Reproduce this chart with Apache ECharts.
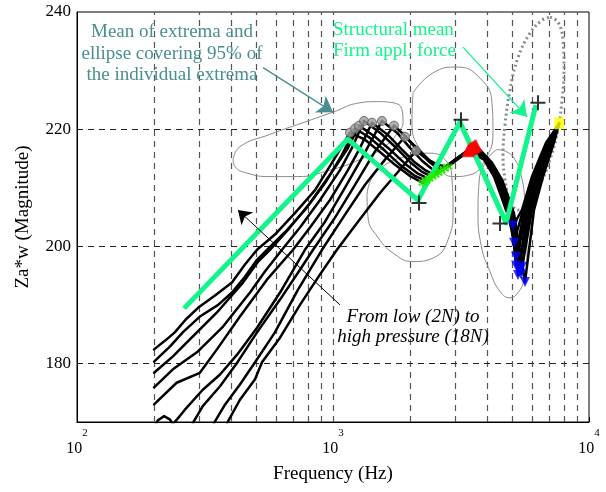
<!DOCTYPE html>
<html>
<head>
<meta charset="utf-8">
<script src="https://cdn.jsdelivr.net/npm/echarts/dist/echarts.min.js"></script>
<style>
html, body { margin: 0; padding: 0; background: #fff; }
#main { width: 606px; height: 492px; }
</style>
</head>
<body>
<div id="main"></div>
<script>
// measured curves, [frequency Hz, magnitude]
var curve1 = [[200,182.4],[221,183.9],[241,185.3],[266,187.5],[297,189.5],[346,191.6],[403,193.8],[453,196.9],[505,199.4],[593,202.0],[711,205.7],[851,209.6],[1018,215.1],[1165,219.4],
  [1334,218.2],[1526,216.1],[1747,213.9],[1999,212.0],[2247,210.8],[3368,216.3],
  [3889,214.8],[4254,211.9],[4491,209.1],[4740,206.2],[5047,203.5],[5473,206.2],[5989,211.9],[6793,217.7],[7635,220.9]];
var curve2 = [[200,180.3],[231,182.9],[260,185.4],[302,188.0],[356,190.0],[403,192.1],[453,194.8],[505,197.7],[552,199.4],[649,202.4],[777,206.2],[931,210.8],[1084,215.6],[1219,220.1],
  [1395,218.5],[1596,216.3],[1827,213.9],[2091,212.0],[2308,211.2],[3398,216.5],
  [3924,214.8],[4293,211.9],[4531,209.1],[4783,206.2],[4957,203.2],[5093,200.6],[5523,206.2],[6043,211.9],[6854,217.7],[7635,220.9]];
var curve3 = [[200,178.4],[237,181.2],[276,184.1],[352,188.7],[445,193.8],[510,197.4],[567,199.4],[679,203.2],[813,207.4],[973,212.2],[1134,216.5],[1264,220.6],
  [1459,218.7],[1670,216.5],[1911,214.1],[2148,212.4],[2371,211.5],[3429,216.7],
  [3959,214.8],[4332,211.9],[4572,209.1],[4826,206.2],[5002,202.8],[5185,198.2],[5573,206.2],[6098,211.9],[6916,217.7],[7635,220.9]];
var curve4 = [[200,175.9],[237,179.0],[294,181.9],[372,186.3],[474,192.1],[542,195.7],[632,199.4],[743,203.2],[890,207.9],[1065,213.0],[1186,216.8],[1322,221.4],
  [1526,219.4],[1747,217.0],[1999,214.4],[2227,212.7],[2436,211.9],[3460,216.7],
  [3995,214.6],[4371,211.7],[4614,209.0],[4869,205.9],[5047,202.0],[5185,196.7],[5674,206.2],[6208,211.9],[6978,217.7],[7635,220.9]];
var curve5 = [[200,173.0],[245,176.7],[302,178.4],[352,182.4],[433,188.0],[552,194.3],[698,199.4],[813,203.2],[973,207.9],[1144,213.0],[1275,216.8],[1420,221.1],
  [1640,219.0],[1860,216.5],[2091,214.3],[2308,212.9],[2503,212.2],[3491,216.8],
  [4031,214.6],[4410,211.7],[4655,209.0],[4913,205.9],[5139,201.5],[5327,196.0],[5725,206.2],[6264,211.9],[7041,217.7],[7635,220.9]];
var curve6 = [[200,169.1],[207,170.3],[219,171.0],[231,170.4],[237,169.6],[264,172.1],[310,175.5],[362,178.1],[422,181.5],[505,186.1],[621,192.1],[777,199.4],[931,204.2],[1114,210.0],[1298,215.1],[1553,221.4],
  [1779,219.4],[1999,216.8],[2227,214.6],[2436,213.2],[2572,212.5],[3523,217.0],
  [4067,214.4],[4450,211.5],[4697,208.8],[4957,205.7],[5093,201.1],[5280,195.1],[5829,206.2],[6378,211.9],[7105,217.7],[7635,220.9]];
var curve7 = [[276,168.7],[286,170.1],[310,172.7],[362,176.1],[425,180.3],[505,185.3],[621,190.9],[743,196.0],[836,199.4],[1018,204.9],[1219,210.5],[1459,216.2],[1731,220.6],
  [1928,218.7],[2148,216.3],[2393,214.3],[2642,212.9],[3554,217.0],
  [4104,214.4],[4491,211.5],[4740,208.8],[5002,205.7],[5232,201.1],[5473,196.5],[5882,206.2],[6436,211.9],[7169,217.7],[7635,220.9]];
var curve8 = [[337,169.1],[346,170.1],[379,173.0],[433,176.4],[496,180.2],[593,185.3],[730,192.6],[906,199.4],[1114,205.4],[1334,210.5],[1596,214.8],[1911,218.7],
  [2129,216.8],[2393,214.6],[2714,213.2],[3586,217.2],
  [4141,214.3],[4531,211.4],[4783,208.6],[5047,205.6],[5232,200.8],[5424,195.3],[5989,206.2],[6494,211.9],[7234,217.7],[7635,220.9]];
var curve9 = [[379,169.1],[389,170.1],[433,173.8],[496,177.3],[528,180.2],[621,184.4],[743,190.0],[890,195.2],[1036,199.4],[1252,204.2],[1526,209.1],[1827,213.1],[2110,216.3],
  [2328,214.9],[2572,213.9],[2813,213.6],[3619,217.2],
  [4178,214.3],[4572,211.4],[4826,208.6],[5093,205.6],[5327,200.3],[5623,193.9],[6098,206.2],[6611,211.9],[7299,217.7],[7635,220.9]];

// extrema markers
var peaks = [[1165,219.4],[1219,220.1],[1264,220.6],[1322,221.4],[1420,221.1],[1553,221.4],[1731,220.6],[1911,218.7],[2110,216.3]];
var valleys = [[2247,210.8],[2308,211.2],[2371,211.5],[2436,211.9],[2503,212.2],[2572,212.5],[2642,212.9],[2714,213.2],[2813,213.6]];
var redPeaks = [[3368,216.3],[3398,216.5],[3429,216.7],[3460,216.7],[3491,216.8],[3523,217.0],[3554,217.0],[3586,217.2],[3619,217.2]];
var minima = [[5047,203.5],[5093,200.6],[5185,198.2],[5185,196.7],[5327,196.0],[5280,195.1],[5473,196.5],[5424,195.3],[5623,193.9]];
var lastPoint = [[7650,221.0]];

// structural mean (firm applied force)
var meanLine = [[262,189.4],[1144,218.3],[2148,207.9],[3133,221.2],[4744,204.0],[6205,224.1]];
var meanPlus = [[2168,207.4],[3162,221.6],[4491,203.9],[6320,224.5]];

// 95% ellipses
var ellipse1 = [[407,214.8],[433,217.0],[567,219.1],[763,221.1],[1000,222.9],[1275,224.5],[1485,224.7],[1716,224.5],[1860,223.3],[1877,221.2],[1827,219.9],[1568,216.8],[1275,214.8],[973,213.0],[724,211.9],[567,211.9],[461,212.5],[414,213.6],[407,214.8]];
var ellipse2 = [[2054,226.2],[2458,229.6],[3050,230.6],[3751,228.7],[4178,224.5],[4216,219.4],[3924,214.8],[3429,212.2],[2942,211.9],[2548,213.6],[2187,216.5],[2035,221.1],[2054,226.2]];
var ellipse3 = [[1358,208.8],[1420,211.7],[1596,213.9],[1911,215.3],[2350,215.9],[2738,214.8],[2916,211.4],[2942,206.2],[2813,201.1],[2458,198.0],[2054,197.4],[1747,198.6],[1499,201.5],[1370,205.0],[1358,208.8]];
var ellipse4 = [[4371,216.5],[4783,216.1],[5139,214.8],[5424,212.2],[5623,207.9],[5725,202.8],[5725,197.7],[5573,194.3],[5280,192.1],[4913,191.2],[4491,192.3],[4104,195.7],[3785,200.3],[3685,205.9],[3718,210.8],[3995,214.8],[4371,216.5]];
var ellipseDotted = [[7041,239.1],[7567,238.3],[7915,235.2],[7986,230.1],[7844,225.0],[7567,219.9],[7041,214.8],[6436,210.5],[5777,207.1],[5280,206.2],[4913,207.9],[4697,211.4],[4614,215.6],[4697,220.7],[4913,226.7],[5280,232.2],[5882,236.4],[6552,238.6],[7041,239.1]];

// grid lines and annotation arrows
var gridFreqs = [200,300,400,500,600,700,800,900,1000,2000,3000,4000,5000,6000,7000,8000,9000];
var gridMags = [180, 200, 220];
var arrowTeal = [[533,230.5],[1000,222.9]];
var arrowGreen = [[3220,234.0],[5725,222.1]];
var arrowBlack = [[1065,190.0],[425,206.2]];

var FONT = '"Liberation Serif", "Times New Roman", serif';
var TEAL = '#4a8f8f';
var MINT = '#12f58a';

var myChart = echarts.init(document.getElementById('main'));

function ellipseSeries(d, extra) {
  var s = {
    type: 'line', data: d, symbol: 'none', smooth: 0.5, silent: true, z: 2,
    lineStyle: { color: '#8a8a8a', width: 1 }
  };
  return Object.assign(s, extra || {});
}

function arrowItem(a, color, width, size) {
  return [
    { coord: a[0], symbol: 'none', lineStyle: { color: color, width: width, type: 'solid' } },
    { coord: a[1], symbol: 'arrow', symbolSize: size, itemStyle: { color: color } }
  ];
}

var series = [];

series.push(ellipseSeries(ellipse1, {
  markLine: {
    silent: true, symbol: 'none', z: 1, animation: false,
    label: { show: false },
    data: gridFreqs.map(function (f) {
      return { xAxis: f, lineStyle: { color: '#555', width: 1.2, type: [6, 5] } };
    }).concat(gridMags.map(function (v) {
      return { yAxis: v, lineStyle: { color: '#222', width: 1, type: [6, 5] } };
    }))
  }
}));
series.push(ellipseSeries(ellipse2));
series.push(ellipseSeries(ellipse3));
series.push(ellipseSeries(ellipse4));
series.push(ellipseSeries(ellipseDotted, {
  smooth: 0.4,
  lineStyle: { color: '#8a8a8a', width: 3, type: [2, 3] }
}));

[curve1, curve2, curve3, curve4, curve5, curve6, curve7, curve8, curve9].forEach(function (c) {
  series.push({
    type: 'line', data: c, symbol: 'none', silent: true, z: 3,
    lineStyle: { color: '#000', width: 2.5, cap: 'round', join: 'round' }
  });
});

series.push({
  type: 'line', data: meanLine, symbol: 'none', silent: true, z: 4,
  lineStyle: { color: MINT, width: 5, join: 'round' }
});

series.push({
  type: 'scatter', data: peaks, symbol: 'circle', symbolSize: 9, silent: true, z: 5,
  itemStyle: { color: '#9c9c9c', borderColor: '#555', borderWidth: 1 }
});
series.push({
  type: 'scatter', data: valleys, silent: true, z: 5,
  symbol: 'path://M0,-1L0,1M-0.87,-0.5L0.87,0.5M-0.87,0.5L0.87,-0.5', symbolSize: 9,
  itemStyle: { color: 'rgba(0,0,0,0)', borderColor: '#22ee00', borderWidth: 2 }
});
series.push({
  type: 'scatter', data: redPeaks, symbol: 'triangle', symbolSize: 13, silent: true, z: 5,
  itemStyle: { color: '#ff0000' }
});
series.push({
  type: 'scatter', data: minima, symbol: 'triangle', symbolRotate: 180, symbolSize: 10, silent: true, z: 5,
  itemStyle: { color: '#0000ff' }
});
series.push({
  type: 'scatter', data: lastPoint, symbol: 'rect', symbolSize: [10, 12], silent: true, z: 5,
  itemStyle: { color: '#ffff00' }
});
series.push({
  type: 'scatter', data: meanPlus, silent: true, z: 5,
  symbol: 'path://M0,-1L0,1M-1,0L1,0', symbolSize: 15,
  itemStyle: { color: 'rgba(0,0,0,0)', borderColor: '#000', borderWidth: 2 }
});

// arrows
series.push({
  type: 'line', data: [], silent: true, z: 6,
  markLine: {
    silent: true, animation: false, z: 6,
    label: { show: false },
    data: [
      arrowItem(arrowTeal, TEAL, 1.3, 15),
      arrowItem(arrowGreen, MINT, 1.3, 15),
      arrowItem(arrowBlack, '#000', 1, 13)
    ]
  }
});

myChart.setOption({
  animation: false,
  backgroundColor: '#fff',
  grid: {
    left: 77, top: 12, width: 512, height: 410,
    show: true, borderColor: '#000', borderWidth: 1, backgroundColor: 'transparent',
    outerBoundsMode: 'none'
  },
  xAxis: {
    type: 'log', logBase: 10, min: 100, max: 10000,
    name: 'Frequency (Hz)', nameLocation: 'middle', nameGap: 43,
    nameTextStyle: { fontSize: 19, color: '#000', fontFamily: FONT },
    axisLine: { lineStyle: { color: '#000', width: 1 } },
    axisTick: { show: true, inside: true, length: 5, lineStyle: { color: '#000' } },
    splitLine: { show: false },
    axisLabel: {
      margin: 18,
      formatter: function (v) {
        return '{b|10}{s|' + Math.round(Math.log10(v)) + '}';
      },
      rich: {
        b: { fontSize: 16, fontFamily: FONT, color: '#000', lineHeight: 17, verticalAlign: 'bottom' },
        s: { fontSize: 11, fontFamily: FONT, color: '#000', lineHeight: 11, padding: [0, 0, 18, 0], verticalAlign: 'bottom' }
      }
    }
  },
  yAxis: {
    type: 'value', min: 170, max: 240, interval: 10,
    name: 'Za*w (Magnitude)', nameLocation: 'middle', nameGap: 44, nameRotate: 90,
    nameTextStyle: { fontSize: 19, color: '#000', fontFamily: FONT },
    axisLine: { show: true, lineStyle: { color: '#000', width: 1 } },
    axisTick: { show: false },
    splitLine: { show: false },
    axisLabel: {
      margin: 6, fontSize: 17, color: '#000', fontFamily: FONT, showMaxLabel: true,
      formatter: function (v) { return (v % 20 === 0 && v > 170) ? String(v) : ''; }
    }
  },
  graphic: [
    {
      type: 'text', silent: true, z: 10,
      style: {
        text: 'Mean of extrema and\nellipse covering 95% of\nthe individual extrema',
        x: 172, y: 54, align: 'center', verticalAlign: 'middle', lineHeight: 21.5,
        fontSize: 19, fontFamily: FONT, fill: TEAL
      }
    },
    {
      type: 'text', silent: true, z: 10,
      style: {
        text: 'Structural mean\nFirm appl. force',
        x: 333, y: 41, align: 'left', verticalAlign: 'middle', lineHeight: 21,
        fontSize: 19, fontFamily: FONT, fill: MINT
      }
    },
    {
      type: 'text', silent: true, z: 10,
      style: {
        text: 'From low (2N) to\nhigh pressure (18N)',
        x: 413, y: 327, align: 'center', verticalAlign: 'middle', lineHeight: 20,
        fontSize: 19, fontFamily: FONT, fontStyle: 'italic', fill: '#000'
      }
    }
  ],
  series: series
});

window.PieChart = myChart;
</script>
</body>
</html>
